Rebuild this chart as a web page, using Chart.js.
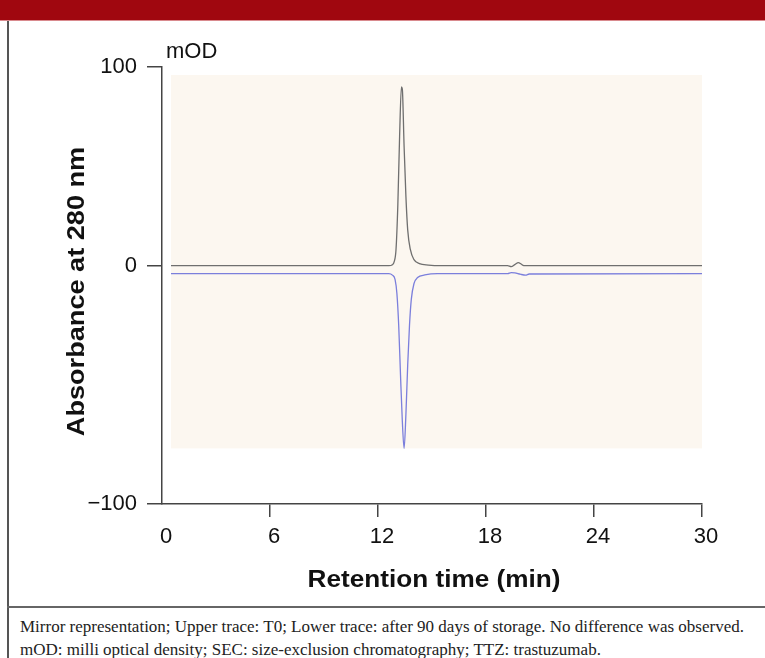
<!DOCTYPE html>
<html>
<head>
<meta charset="utf-8">
<script src="https://cdn.jsdelivr.net/npm/chart.js@4/dist/chart.umd.min.js"></script>
<style>
  body { margin: 0; background: #fff; width: 765px; height: 658px; overflow: hidden; position: relative; }
  #bar { position: absolute; left: 0; top: 0; width: 765px; height: 20px; background: #a0070f; border-bottom: 1px solid #d98a8e; }
  #frame { position: absolute; left: 7px; top: 21px; width: 2px; height: 637px; background: #555; }
  #sep { position: absolute; left: 7px; top: 606px; width: 758px; height: 2px; background: #666; }
  #chart { position: absolute; left: 0; top: 0; }
  #unit { position: absolute; left: 166px; top: 38px; font: 22px 'Liberation Sans', Arial, sans-serif; color: #111; }
  .cap { position: absolute; left: 20px; font: 17px 'Liberation Serif', 'Times New Roman', serif; color: #222; white-space: nowrap; }
</style>
</head>
<body>
<div id="bar"></div>
<div id="frame"></div>
<canvas id="chart" width="765" height="606"></canvas>
<div id="unit">mOD</div>
<div id="sep"></div>
<div class="cap" style="top: 617px;">Mirror representation; Upper trace: T0; Lower trace: after 90 days of storage. No difference was observed.</div>
<div class="cap" style="top: 640px;">mOD: milli optical density; SEC: size-exclusion chromatography; TTZ: trastuzumab.</div>
<script>
// upper trace: T0
const t0Time = [0.5, 12.6, 12.8, 12.9, 13.0, 13.1, 13.2, 13.3, 13.35, 13.45, 13.55, 13.65, 13.8, 14.0, 14.3, 14.8, 15.5, 19.2, 19.4, 19.6, 19.8, 19.95, 20.1, 30];
const t0Abs  = [0, 0, 0.5, 2, 8, 30, 65, 90, 89, 60, 35, 18, 8, 3, 1, 0.3, 0, 0, -0.5, 0.5, 1.5, 0.8, 0, 0];

// lower trace: after 90 days (mirrored)
const d90Time = [0.5, 12.6, 12.8, 12.95, 13.05, 13.15, 13.25, 13.35, 13.45, 13.55, 13.65, 13.75, 13.85, 14.0, 14.2, 14.6, 15.3, 19.2, 19.4, 19.6, 19.9, 20.2, 20.4, 30];
const d90Abs  = [-4, -4, -4.8, -7, -14, -30, -55, -78, -92, -75, -50, -30, -17, -9, -6, -4.7, -4, -4, -3.5, -3.6, -4.3, -4.8, -4.2, -4];

const xTicks = [0, 6, 12, 18, 24, 30];
// the figure's lower axis end sits further down than a linear -100 would
const yTicks = [100, 0, -120];
const yTickLabels = ['100', '0', '\u2212100'];

const xTitle = 'Retention time (min)';
const yTitle = 'Absorbance at 280 nm';

// shaded plot panel, in data units
const panelX = [0.5, 30];
const panelY = [96, -92];

const toPoints = (xs, ys) => xs.map((x, i) => ({ x: x, y: ys[i] }));

const panelPlugin = {
  id: 'panel',
  beforeDatasetsDraw(chart) {
    const { ctx, scales: { x, y } } = chart;
    const x0 = x.getPixelForValue(panelX[0]), x1 = x.getPixelForValue(panelX[1]);
    const y0 = y.getPixelForValue(panelY[0]), y1 = y.getPixelForValue(panelY[1]);
    ctx.save();
    ctx.fillStyle = '#fcf7f0';
    ctx.fillRect(x0, y0, x1 - x0, y1 - y0);
    ctx.restore();
  }
};

// axis titles: the original lettering is a bit wider than Liberation Sans
const titlePlugin = {
  id: 'titles',
  afterDraw(chart) {
    const { ctx, chartArea: a } = chart;
    ctx.save();
    ctx.font = "bold 24px 'Liberation Sans', Arial, sans-serif";
    ctx.fillStyle = '#111';
    ctx.textAlign = 'center';
    ctx.textBaseline = 'middle';

    ctx.save();
    ctx.translate((a.left + a.right) / 2 + 2, a.bottom + 76);
    ctx.scale(1.09, 1);
    ctx.fillText(xTitle, 0, 0);
    ctx.restore();

    ctx.save();
    ctx.translate(77, (a.top + a.bottom) / 2 + 6);
    ctx.rotate(-Math.PI / 2);
    ctx.scale(1.13, 1);
    ctx.fillText(yTitle, 0, 0);
    ctx.restore();

    ctx.restore();
  }
};

const tickFont = { family: "'Liberation Sans', Arial, sans-serif", size: 22 };

new Chart(document.getElementById('chart'), {
  type: 'scatter',
  data: {
    datasets: [{
      label: 'T0',
      data: toPoints(t0Time, t0Abs),
      showLine: true,
      borderColor: '#6f6f6f',
      borderWidth: 1.3,
      pointRadius: 0,
      cubicInterpolationMode: 'monotone'
    }, {
      label: '90 days',
      data: toPoints(d90Time, d90Abs),
      showLine: true,
      borderColor: '#7b7fdc',
      borderWidth: 1.3,
      pointRadius: 0,
      cubicInterpolationMode: 'monotone'
    }]
  },
  options: {
    responsive: false,
    animation: false,
    layout: { padding: { top: 67, right: 63, left: 0, bottom: 0 } },
    plugins: { legend: { display: false }, tooltip: { enabled: false } },
    scales: {
      x: {
        type: 'linear',
        min: 0,
        max: 30,
        afterBuildTicks: s => { s.ticks = xTicks.map(v => ({ value: v })); },
        afterFit: s => { s.height = 102; },
        border: { display: true, color: '#444', width: 1.5 },
        grid: {
          drawOnChartArea: false,
          tickLength: 13,
          lineWidth: 1.5,
          color: c => (c.tick && c.tick.value === 0) ? 'rgba(0,0,0,0)' : '#444'
        },
        ticks: { font: tickFont, color: '#111', padding: 7, maxRotation: 0, labelOffset: 4 }
      },
      y: {
        type: 'linear',
        min: -120,
        max: 100,
        afterBuildTicks: s => { s.ticks = yTicks.map(v => ({ value: v })); },
        afterFit: s => { s.width = 162; },
        border: { display: true, color: '#444', width: 1.5 },
        grid: { drawOnChartArea: false, tickLength: 15, lineWidth: 1.5, color: '#444' },
        ticks: { font: tickFont, color: '#111', padding: 10, callback: (v, i) => yTickLabels[i] }
      }
    }
  },
  plugins: [panelPlugin, titlePlugin]
});
</script>
</body>
</html>
